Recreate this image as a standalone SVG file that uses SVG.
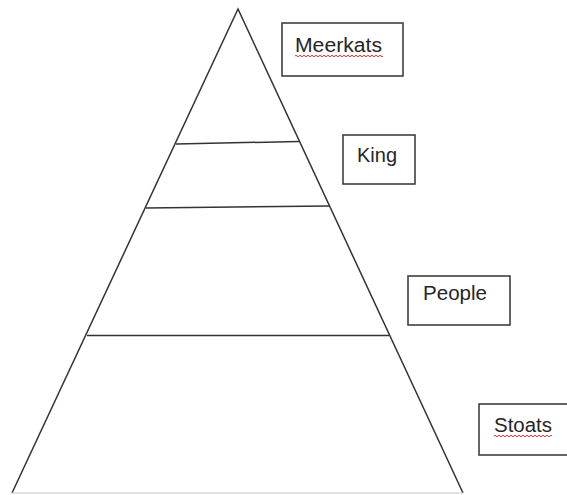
<svg xmlns="http://www.w3.org/2000/svg" width="567" height="495" viewBox="0 0 567 495">
<style>
.edge{stroke:#333;stroke-width:1.5;fill:none}
.box{fill:#fff;stroke:#3f3f3f;stroke-width:1.6}
.lbl{font-family:"Liberation Sans",Arial,sans-serif;font-size:20px;fill:#262626}
.spell{stroke:#e03030;stroke-width:1;fill:none}
</style>
<rect width="567" height="495" fill="#fff"/>
<g id="pyramid">
<path class="edge" d="M12,493 L238,9 L463,493"/>
<line x1="12" y1="493" x2="463" y2="493" stroke="#c8c8c8" stroke-width="1.2"/>
</g>
<g id="connectors">
<line class="edge" x1="176" y1="144" x2="299" y2="141.5"/>
<line class="edge" x1="146" y1="208" x2="329" y2="206"/>
<line class="edge" x1="87" y1="335.5" x2="389" y2="335.5"/>
</g>
<g id="meerkats">
<rect class="box" x="282" y="23" width="121" height="53"/>
<text class="lbl" x="295" y="52" textLength="87" lengthAdjust="spacingAndGlyphs">Meerkats</text>
<path class="spell" d="M295,56 q1,-1.5 2,0 t2,0 t2,0 t2,0 t2,0 t2,0 t2,0 t2,0 t2,0 t2,0 t2,0 t2,0 t2,0 t2,0 t2,0 t2,0 t2,0 t2,0 t2,0 t2,0 t2,0 t2,0 t2,0 t2,0 t2,0 t2,0 t2,0 t2,0 t2,0 t2,0 t2,0 t2,0 t2,0 t2,0 t2,0 t2,0 t2,0 t2,0 t2,0 t2,0 t2,0 t2,0 t2,0 t2,0"/>
</g>
<g id="king">
<rect class="box" x="343" y="135" width="72" height="49"/>
<text class="lbl" x="357" y="162" textLength="40" lengthAdjust="spacingAndGlyphs">King</text>
</g>
<g id="people">
<rect class="box" x="408" y="276" width="102" height="49"/>
<text class="lbl" x="423" y="300" textLength="64" lengthAdjust="spacingAndGlyphs">People</text>
</g>
<g id="stoats">
<rect class="box" x="479" y="404" width="95" height="51"/>
<text class="lbl" x="494" y="432" textLength="58" lengthAdjust="spacingAndGlyphs">Stoats</text>
<path class="spell" d="M494,436 q1,-1.5 2,0 t2,0 t2,0 t2,0 t2,0 t2,0 t2,0 t2,0 t2,0 t2,0 t2,0 t2,0 t2,0 t2,0 t2,0 t2,0 t2,0 t2,0 t2,0 t2,0 t2,0 t2,0 t2,0 t2,0 t2,0 t2,0 t2,0 t2,0 t2,0"/>
</g>
</svg>
